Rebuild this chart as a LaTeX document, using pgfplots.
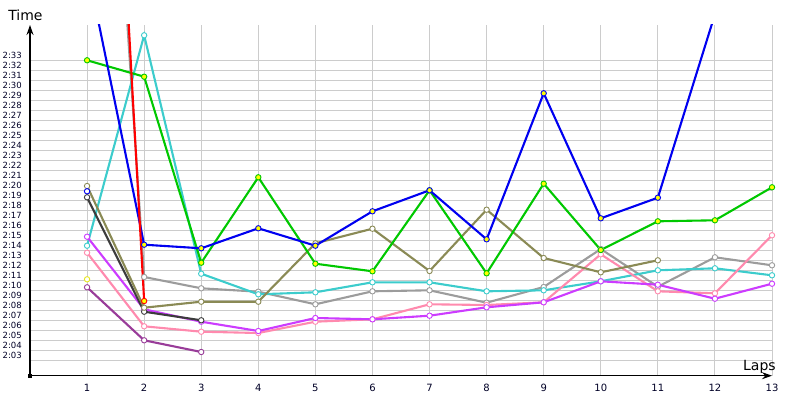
\documentclass[border=0pt]{standalone}
\usepackage{pgfplots}
\pgfplotsset{compat=1.18}
\usepackage{fontspec}
\setmainfont{DejaVu Sans}
\usetikzlibrary{arrows.meta}
\definecolor{cBlue}{HTML}{0000F0}
\definecolor{cGreen}{HTML}{00C800}
\definecolor{cRed}{HTML}{FF0000}
\definecolor{cCyan}{HTML}{3CCCCC}
\definecolor{cOlive}{HTML}{8A8A55}
\definecolor{cGray}{HTML}{9C9C9C}
\definecolor{cDark}{HTML}{3C3C3C}
\definecolor{cMag}{HTML}{CC3CFF}
\definecolor{cPink}{HTML}{FF8AAE}
\definecolor{cPurp}{HTML}{993C99}
\definecolor{cYel}{HTML}{E6E620}
\definecolor{cFill}{HTML}{FFFF00}
\definecolor{cGrid}{HTML}{CCCCCC}
\pgfplotsset{
  ser/.style={color=#1, line width=2.1pt, mark=*, mark size=2.7pt,
    mark options={solid, line width=0.9pt, draw=#1, fill=white}},
  sery/.style={color=#1, line width=2.1pt, mark=*, mark size=2.7pt,
    mark options={solid, line width=0.9pt, draw=#1, fill=cFill}},
}
\begin{document}
\begin{tikzpicture}
\begin{axis}[
  scale only axis,
  width=742pt, height=350.7pt,
  xmin=0, xmax=13, ymin=121.46, ymax=156.53,
  axis lines=left,
  axis line style={line width=1.2pt, -{Stealth[length=10pt,width=7pt]}},
  xtick={1,...,13},
  ytick={123,...,153},
  yticklabels={2:03,2:04,2:05,2:06,2:07,2:08,2:09,2:10,2:11,2:12,2:13,2:14,2:15,2:16,2:17,2:18,2:19,2:20,2:21,2:22,2:23,2:24,2:25,2:26,2:27,2:28,2:29,2:30,2:31,2:32,2:33},
  /pgf/number format/assume math mode=true,
  major tick length=0pt,
  grid=major,
  major grid style={cGrid, line width=1pt},
  yticklabel style={font=\fontsize{8.5}{9}\selectfont, anchor=base east, inner sep=0pt, xshift=-8pt, yshift=2pt, text=black!85!blue},
  xticklabel style={font=\fontsize{10}{12}\selectfont, anchor=base, inner sep=0pt, yshift=-15.3pt, text=black!85!blue},
  clip mode=global,
]
% gray
\addplot[ser=cGray] coordinates {(1,217.3) (2,131.33) (3,130.2) (4,129.86) (5,128.6) (6,129.9) (7,130.0) (8,128.76) (9,130.33) (10,134.13) (11,130.36) (12,133.3) (13,132.5)};
% cyan
\addplot[ser=cCyan] coordinates {(1,134.46) (2,155.5) (3,131.66) (4,129.6) (5,129.8) (6,130.8) (7,130.8) (8,129.9) (9,130.0) (10,130.9) (11,132.0) (12,132.2) (13,131.5)};
% pink
\addplot[ser=cPink] coordinates {(1,133.76) (2,126.4) (3,125.86) (4,125.73) (5,126.86) (6,127.1) (7,128.6) (8,128.53) (9,128.8) (10,133.6) (11,129.9) (12,129.7) (13,135.5)};
% magenta
\addplot[ser=cMag] coordinates {(1,135.36) (2,128.1) (3,126.86) (4,125.93) (5,127.23) (6,127.1) (7,127.46) (8,128.3) (9,128.8) (10,130.9) (11,130.56) (12,129.16) (13,130.66)};
% purple
\addplot[ser=cPurp] coordinates {(1,130.3) (2,125.0) (3,123.83)};
% dark
\addplot[ser=cDark] coordinates {(1,139.3) (2,127.86) (3,127.0)};
% olive
\addplot[ser=cOlive] coordinates {(1,140.43) (2,128.26) (3,128.86) (4,128.86) (5,134.7) (6,136.16) (7,131.93) (8,138.06) (9,133.23) (10,131.8) (11,133.0)};
% green
\addplot[sery=cGreen] coordinates {(1,153.0) (2,151.36) (3,132.76) (4,141.3) (5,132.66) (6,131.9) (7,140.0) (8,131.7) (9,140.66) (10,134.03) (11,136.9) (12,137.0) (13,140.3)};
% blue
\addplot[sery=cBlue] coordinates {(1,162.4) (2,134.56) (3,134.2) (4,136.2) (5,134.46) (6,137.9) (7,140.0) (8,135.1) (9,149.7) (10,137.2) (11,139.26) (12,157.6)};
% red
\addplot[sery=cRed] coordinates {(1,231.2) (2,128.93)};
% single points
\addplot[ser=cYel, only marks] coordinates {(1,131.1)};
\addplot[ser=cBlue, only marks] coordinates {(1,139.9)};
\coordinate (org) at (axis cs:0,121.46);
\coordinate (timepos) at (axis cs:-0.08,156.96);
\coordinate (lapspos) at (axis cs:12.78,121.96);
\coordinate (bl) at (axis cs:-0.5256,119.03);
\coordinate (tr) at (axis cs:13.4906,159.03);
\end{axis}
\fill[black] (org) ++(-2pt,-2pt) rectangle ++(4pt,4pt);
\node[anchor=base, font=\fontsize{14}{16}\selectfont, inner sep=0pt] at (timepos) {Time};
\node[anchor=base, font=\fontsize{14}{16}\selectfont, inner sep=0pt] at (lapspos) {Laps};
\pgfresetboundingbox
\useasboundingbox (bl) rectangle (tr);
\end{tikzpicture}
\end{document}
